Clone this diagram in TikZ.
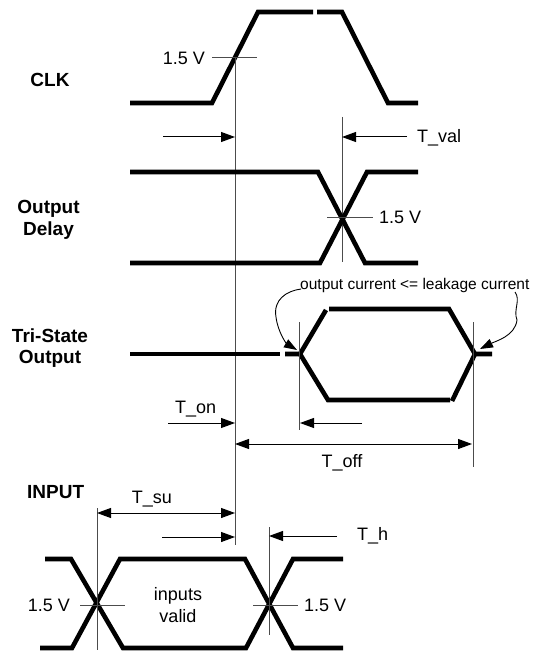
\documentclass[tikz,border=0pt]{standalone}
\usepackage{fontspec}
\setmainfont{Liberation Sans}
\usetikzlibrary{arrows.meta}
\begin{document}
\begin{tikzpicture}[x=1pt,y=-1pt,
  wave/.style={line width=4.6pt, line join=miter},
  thinln/.style={line width=1pt, black!70},
  dimarrow/.style={line width=1pt, black, -{Triangle[length=14pt,width=10pt]}},
  dimboth/.style={line width=1pt, black, {Triangle[length=14pt,width=10pt]}-{Triangle[length=14pt,width=10pt]}},
  curvearrow/.style={line width=0.9pt, black, -{Triangle[length=13pt,width=9pt]}},
  lbl/.style={font=\fontsize{18}{20}\selectfont, inner sep=0pt},
  small/.style={font=\fontsize{15.5}{18}\selectfont, inner sep=0pt},
  sig/.style={font=\fontsize{19}{22}\selectfont\bfseries, inner sep=0pt}]
\useasboundingbox (0,0) rectangle (533,655);

% ---------- signal names ----------
\node[sig, anchor=base] (clk) at (50,87) {CLK};
\node[sig, anchor=base] (od1) at (48.5,213) {Output};
\node[sig, anchor=base] (od2) at (48.5,235) {Delay};
\node[sig, anchor=base] (ts1) at (50,342) {Tri-State};
\node[sig, anchor=base] (ts2) at (50,363) {Output};
\node[sig, anchor=base west] (inp) at (27,498) {INPUT};

% ---------- CLK ----------
\draw[wave] (130,103) -- (212,103) -- (258,12) -- (313,12);
\draw[wave] (317,12) -- (342,12) -- (388,103) -- (418,103);
\draw[thinln] (212,58) -- (257,58);
\node[lbl, anchor=base east] (clkv) at (205,65) {1.5 V};
\draw[thinln] (235,58) -- (235,545);

% ---------- T_val ----------
\draw[thinln] (342,117) -- (342,262);
\coordinate (tvl) at (163,137);
\coordinate (tvr) at (407,137);
\draw[dimarrow] (tvl) -- (235,137);
\draw[dimarrow] (tvr) -- (342,137);
\node[lbl, anchor=base west] (tval) at (417,143) {T\_val};

% ---------- Output Delay ----------
\draw[wave] (130,172) -- (318,172) -- (365,263) -- (418,263);
\draw[wave] (130,263) -- (320,263) -- (367,172) -- (418,172);
\draw[thinln] (327,217) -- (373,217);
\node[lbl, anchor=base west] (odv) at (379,223.5) {1.5 V};

% ---------- Tri-State Output ----------
\draw[wave] (130,354) -- (280,354);
\draw[wave] (285,354) -- (300,354) -- (326,310);
\draw[wave] (329,309) -- (449,309) -- (475,354) -- (492,354);
\draw[wave] (300,354) -- (328,400) -- (450,400);
\draw[wave] (452,401) -- (475,354);
\draw[thinln] (299,322) -- (299,430);
\draw[thinln] (473,322) -- (473,467);
\node[small, anchor=base west] (leak) at (300,289) {output current <= leakage current};
\draw[curvearrow] (301,289) .. controls (286,291) and (273,300) .. (276,317)
   .. controls (278,333) and (287,344) .. (297,350);
\draw[curvearrow] (515,292) .. controls (521,300) and (513,310) .. (517,320)
   .. controls (515,336) and (496,341) .. (480,349);

% ---------- T_on / T_off ----------
\node[lbl, anchor=base west] (ton) at (175,413) {T\_on};
\coordinate (tonl) at (168,423);
\draw[dimarrow] (tonl) -- (235,423);
\coordinate (toffr) at (362,423);
\draw[dimarrow] (toffr) -- (300,423);
\draw[dimboth] (235,444) -- (472,444);
\node[lbl, anchor=base] (toff) at (342,467) {T\_off};

% ---------- INPUT ----------
\draw[wave] (45,559) -- (71,559) -- (123,648) -- (246,648) -- (293,559) -- (343,559);
\draw[wave] (40,648) -- (72,648) -- (120,559) -- (245,559) -- (293,648) -- (343,648);
\draw[thinln] (97,508) -- (97,650);
\draw[thinln] (269,527) -- (269,635);
\draw[thinln] (80,605) -- (125,605);
\draw[thinln] (253,605) -- (298,605);
\draw[dimboth] (97,513) -- (235,513);
\node[lbl, anchor=base] (tsu) at (152,503) {T\_su};
\coordinate (thl) at (162,537);
\draw[dimarrow] (thl) -- (235,537);
\coordinate (thr) at (337,536);
\draw[dimarrow] (thr) -- (269,536);
\node[lbl, anchor=base west] (th) at (357,540) {T\_h};
\node[lbl, anchor=base east] (inv1) at (70,611) {1.5 V};
\node[lbl, anchor=base west] (inv2) at (304,611) {1.5 V};
\node[lbl, anchor=base] (iv1) at (178,600) {inputs};
\node[lbl, anchor=base] (iv2) at (178,622) {valid};
\end{tikzpicture}
\end{document}
